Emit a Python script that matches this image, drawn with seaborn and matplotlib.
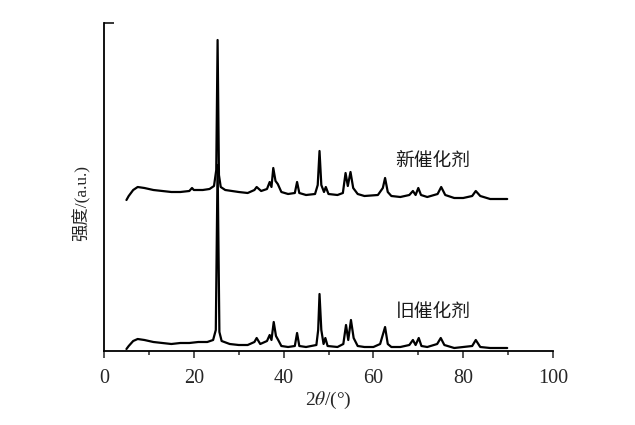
import numpy as np
import pandas as pd
import matplotlib
matplotlib.use("Agg")
import matplotlib.pyplot as plt
import seaborn as sns

# 2theta (deg) and intensity (a.u.), new catalyst (upper trace)
new_2theta = [5.0, 5.5, 6.5, 7.5, 9, 11, 13, 15, 17, 19, 19.6, 20, 22, 23.5, 24.5, 25.0, 25.3, 25.6,
              26.0, 27, 30, 32, 33.5, 34, 35, 36.3, 36.9, 37.3, 37.7, 38.2, 38.7, 39.5, 41, 42.5,
              43.0, 43.5, 45, 47, 47.6, 48.0, 48.4, 49.0, 49.4, 50, 52, 53.2, 53.8, 54.3, 54.9,
              55.5, 56.5, 58, 61, 62.1, 62.6, 63.2, 64, 66, 68, 68.8, 69.4, 70.0, 70.6, 72, 74.3,
              75.1, 76, 78, 80, 82, 82.8, 83.8, 86, 88, 89.8]
new_int = [151, 155, 161, 164, 163, 161, 160, 159, 159, 160, 163, 161, 161, 162, 165, 181, 311, 176,
           164, 161, 159, 158, 161, 164, 160, 162, 169, 164, 183, 170, 167, 159, 157, 158,
           169, 158, 156, 157, 166, 200, 166, 159, 164, 157, 156, 158, 178, 165, 179,
           163, 157, 155, 156, 163, 173, 159, 155, 154, 156, 160, 156, 163, 156, 154, 157,
           164, 156, 153, 153, 155, 160, 155, 152, 152, 152]

# old catalyst (lower trace)
old_2theta = [5.0, 5.5, 6.5, 7.5, 9, 11, 13, 15, 17, 19, 21, 23, 24.3, 24.9, 25.3, 25.7, 26.2, 28,
              30, 32, 33.5, 34, 34.8, 36.3, 36.9, 37.3, 37.8, 38.3, 38.8, 39.5, 41, 42.5, 43.0,
              43.5, 45, 47.3, 47.7, 48.0, 48.4, 48.9, 49.3, 49.8, 52, 53.3, 53.9, 54.4, 55.0,
              55.6, 56.5, 58, 60, 61.5, 62.6, 63.2, 64, 66, 68, 68.8, 69.4, 70.1, 70.7, 72, 74.2,
              75.0, 75.8, 78, 80, 82, 82.8, 83.8, 86, 88, 89.8]
old_int = [2, 5, 10, 12, 11, 9, 8, 7, 8, 8, 9, 9, 11, 21, 186, 19, 10, 7,
           6, 6, 9, 13, 7, 10, 16, 11, 29, 15, 11, 5, 4, 5, 18,
           5, 4, 6, 21, 57, 21, 7, 13, 5, 4, 7, 26, 11, 31,
           13, 5, 4, 4, 7, 24, 7, 4, 4, 6, 11, 6, 13, 5, 4, 7,
           13, 6, 3, 4, 5, 11, 4, 3, 3, 3]

labels = ["新催化剂", "旧催化剂"]
x_ticks = [0, 20, 40, 60, 80, 100]

sns.set_style("ticks")
plt.rcParams['font.family'] = ['Liberation Serif', 'Noto Sans CJK SC', 'DejaVu Sans']
plt.rcParams['mathtext.fontset'] = 'stix'

fig = plt.figure(figsize=(6.35, 4.25), dpi=100)
ax = fig.add_axes([104 / 635, 1 - 351 / 425, 449 / 635, 328 / 425])

df_new = pd.DataFrame({"2theta": new_2theta, "I": new_int})
df_old = pd.DataFrame({"2theta": old_2theta, "I": old_int})
sns.lineplot(data=df_new, x="2theta", y="I", ax=ax, color="black", lw=1.6,
             estimator=None, sort=False)
sns.lineplot(data=df_old, x="2theta", y="I", ax=ax, color="black", lw=1.6,
             estimator=None, sort=False)

ax.text(73.3, 191, labels[0], ha="center", va="center", fontsize=13.5,
        family=['Noto Sans CJK SC', 'DejaVu Sans'], color="#1a1a1a")
ax.text(73.3, 40, labels[1], ha="center", va="center", fontsize=13.5,
        family=['Noto Sans CJK SC', 'DejaVu Sans'], color="#1a1a1a")

ax.set_xlim(0, 100)
ax.set_ylim(0, 328)
ax.set_xticks(x_ticks)
ax.set_xticklabels([str(t) for t in x_ticks], fontsize=14.5)
ax.set_xticks(np.arange(10, 100, 20), minor=True)
ax.tick_params(axis="x", which="major", direction="out", length=5, width=1.1, pad=8)
ax.tick_params(axis="x", which="minor", direction="out", length=3, width=1.1)
ax.set_yticks([328])
ax.set_yticklabels([])
ax.tick_params(axis="y", which="major", direction="in", length=7, width=1.3)

ax.set_xlabel(r"2$\theta$/(°)", fontsize=14)
ax.xaxis.set_label_coords(0.5, -0.12)
ax.set_ylabel("强度/(a.u.)", fontsize=12.5)
ax.yaxis.set_label_coords(-0.03, 0.45)

sns.despine(ax=ax)
for s in ["left", "bottom"]:
    ax.spines[s].set_linewidth(1.3)
    ax.spines[s].set_color("black")

fig.savefig("out.png", dpi=100)
